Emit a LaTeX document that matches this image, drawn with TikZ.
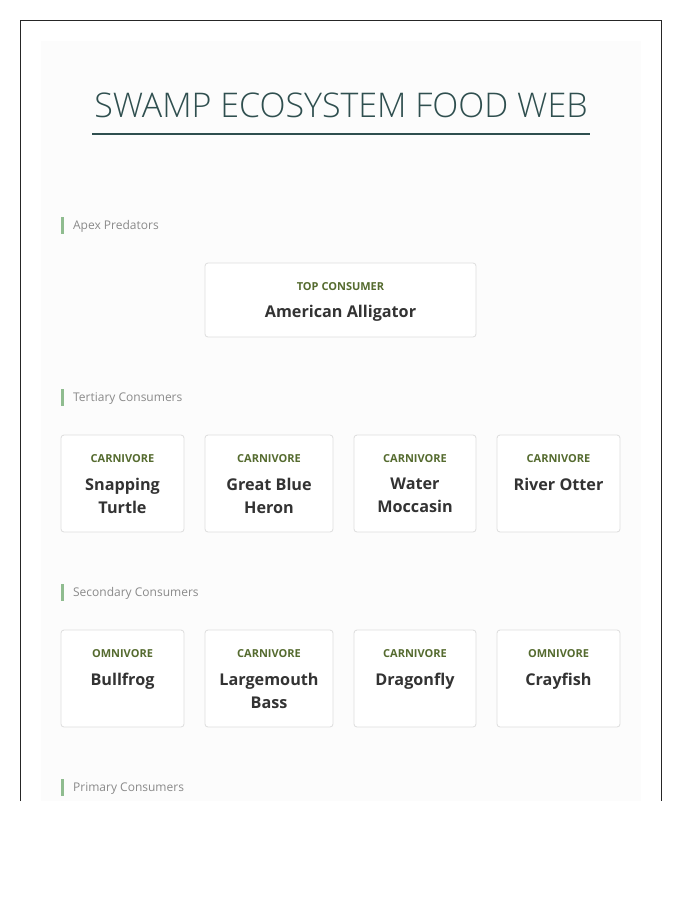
\documentclass[tikz,border=0pt]{standalone}
\usepackage{fontspec}
\setmainfont{Open Sans}
\IfFontExistsTF{Open Sans Light}
	{\newfontfamily\titlefont{Open Sans Light}}
	{\newfontfamily\titlefont{Open Sans}}
\IfFontExistsTF{Open Sans SemiBold}
	{\newfontfamily\namefont{Open Sans SemiBold}\def\namesize{16.6}}
	{\newfontfamily\namefont[UprightFont=*-Bold]{Open Sans}\def\namesize{16.2}}
\usetikzlibrary{positioning}
\definecolor{titleInk}{HTML}{2F4F4F}
\definecolor{roleInk}{HTML}{556B2F}
\definecolor{nameInk}{HTML}{333333}
\definecolor{levelInk}{HTML}{8A8A8A}
\definecolor{levelBar}{HTML}{8FBC8F}
\definecolor{cardLine}{HTML}{DDDDDD}
\definecolor{panelFill}{HTML}{FCFCFC}
\tikzset{%
	% Specifications for style of nodes:
	card/.style = {rectangle, rounded corners=3pt, draw=cardLine, fill=white,
		line width=0.8pt, inner sep=0pt, outer sep=0pt},
	apexCard/.style = {card, minimum width=271pt, minimum height=74pt},
	speciesCard/.style = {card, minimum height=97pt},
	role/.style = {inner sep=0pt, text=roleInk,
		font=\fontsize{11}{13}\selectfont\bfseries},
	species/.style = {inner sep=0pt, text=nameInk, align=center,
		font=\fontsize{\namesize}{23}\selectfont\namefont},
	levelMark/.style = {rectangle, fill=levelBar, inner sep=0pt,
		minimum width=2.5pt, minimum height=17pt},
	level/.style = {inner sep=0pt, text=levelInk, yshift=-1.5pt,
		font=\fontsize{12}{15}\selectfont}
}

\begin{document}
\begin{tikzpicture}[x=1pt, y=-1pt]
		\useasboundingbox (0,0) rectangle (700,900);
		\fill[white] (0,0) rectangle (700,900);
		%% frame and panel
		\fill[panelFill] (41,41) rectangle (641,801);
		\draw[line width=1pt, black!85] (20,801) -- (20,20) -- (661,20) -- (661,801);
		%% Title
		\node [inner sep=0pt, text=titleInk, font=\fontsize{34}{40}\selectfont\titlefont] (title) at (341,105) {SWAMP ECOSYSTEM FOOD WEB};
		\coordinate[shift={(-2pt,-16.5pt)}] (ruleLeft) at (title.south west);
		\coordinate[shift={(2pt,-16.5pt)}] (ruleRight) at (title.south east);
		\draw [titleInk, line width=2pt] (ruleLeft) -- (ruleRight);
		%% Apex Predators
		\node [levelMark] (apexMark) at (62.5,225) {};
		\node [level, right=9pt of apexMark] (apexLevel) {Apex Predators};
		\node [apexCard] (aCard) at (340.5,300) {};
		\node [role, below=19.5pt of aCard.north] (aRole) {TOP CONSUMER};
		\node [species, below=14pt of aRole] (aName) {American Alligator};
		%% Tertiary Consumers
		\node [levelMark] (tertMark) at (62.5,397) {};
		\node [level, right=9pt of tertMark] (tertLevel) {Tertiary Consumers};
		\node [speciesCard, minimum width=123pt] (tCard1) at (122.5,483.5) {};
		\node [speciesCard, minimum width=128pt, right=21pt of tCard1] (tCard2) {};
		\node [speciesCard, minimum width=122pt, right=21pt of tCard2] (tCard3) {};
		\node [speciesCard, minimum width=123pt, right=21pt of tCard3] (tCard4) {};
		\node [role, below=19.5pt of tCard1.north] (tRole1) {CARNIVORE};
		\node [role, below=19.5pt of tCard2.north] (tRole2) {CARNIVORE};
		\node [role, below=19.5pt of tCard3.north] (tRole3) {CARNIVORE};
		\node [role, below=19.5pt of tCard4.north] (tRole4) {CARNIVORE};
		\node [species, below=15pt of tRole1] (tName1) {Snapping\\Turtle};
		\node [species, below=15pt of tRole2] (tName2) {Great Blue\\Heron};
		\node [species, below=15pt of tRole3] (tName3) {Water\\Moccasin};
		\node [species, below=15pt of tRole4] (tName4) {River Otter};
		%% Secondary Consumers
		\node [levelMark] (secMark) at (62.5,592) {};
		\node [level, right=9pt of secMark] (secLevel) {Secondary Consumers};
		\node [speciesCard, minimum width=123pt] (sCard1) at (122.5,678.5) {};
		\node [speciesCard, minimum width=128pt, right=21pt of sCard1] (sCard2) {};
		\node [speciesCard, minimum width=122pt, right=21pt of sCard2] (sCard3) {};
		\node [speciesCard, minimum width=123pt, right=21pt of sCard3] (sCard4) {};
		\node [role, below=19.5pt of sCard1.north] (sRole1) {OMNIVORE};
		\node [role, below=19.5pt of sCard2.north] (sRole2) {CARNIVORE};
		\node [role, below=19.5pt of sCard3.north] (sRole3) {CARNIVORE};
		\node [role, below=19.5pt of sCard4.north] (sRole4) {OMNIVORE};
		\node [species, below=15pt of sRole1] (sName1) {Bullfrog};
		\node [species, below=15pt of sRole2] (sName2) {Largemouth\\Bass};
		\node [species, below=15pt of sRole3] (sName3) {Dragonfly};
		\node [species, below=15pt of sRole4] (sName4) {Crayfish};
		%% Primary Consumers
		\node [levelMark] (primMark) at (62.5,787) {};
		\node [level, right=9pt of primMark] (primLevel) {Primary Consumers};
	\end{tikzpicture}
\end{document}
